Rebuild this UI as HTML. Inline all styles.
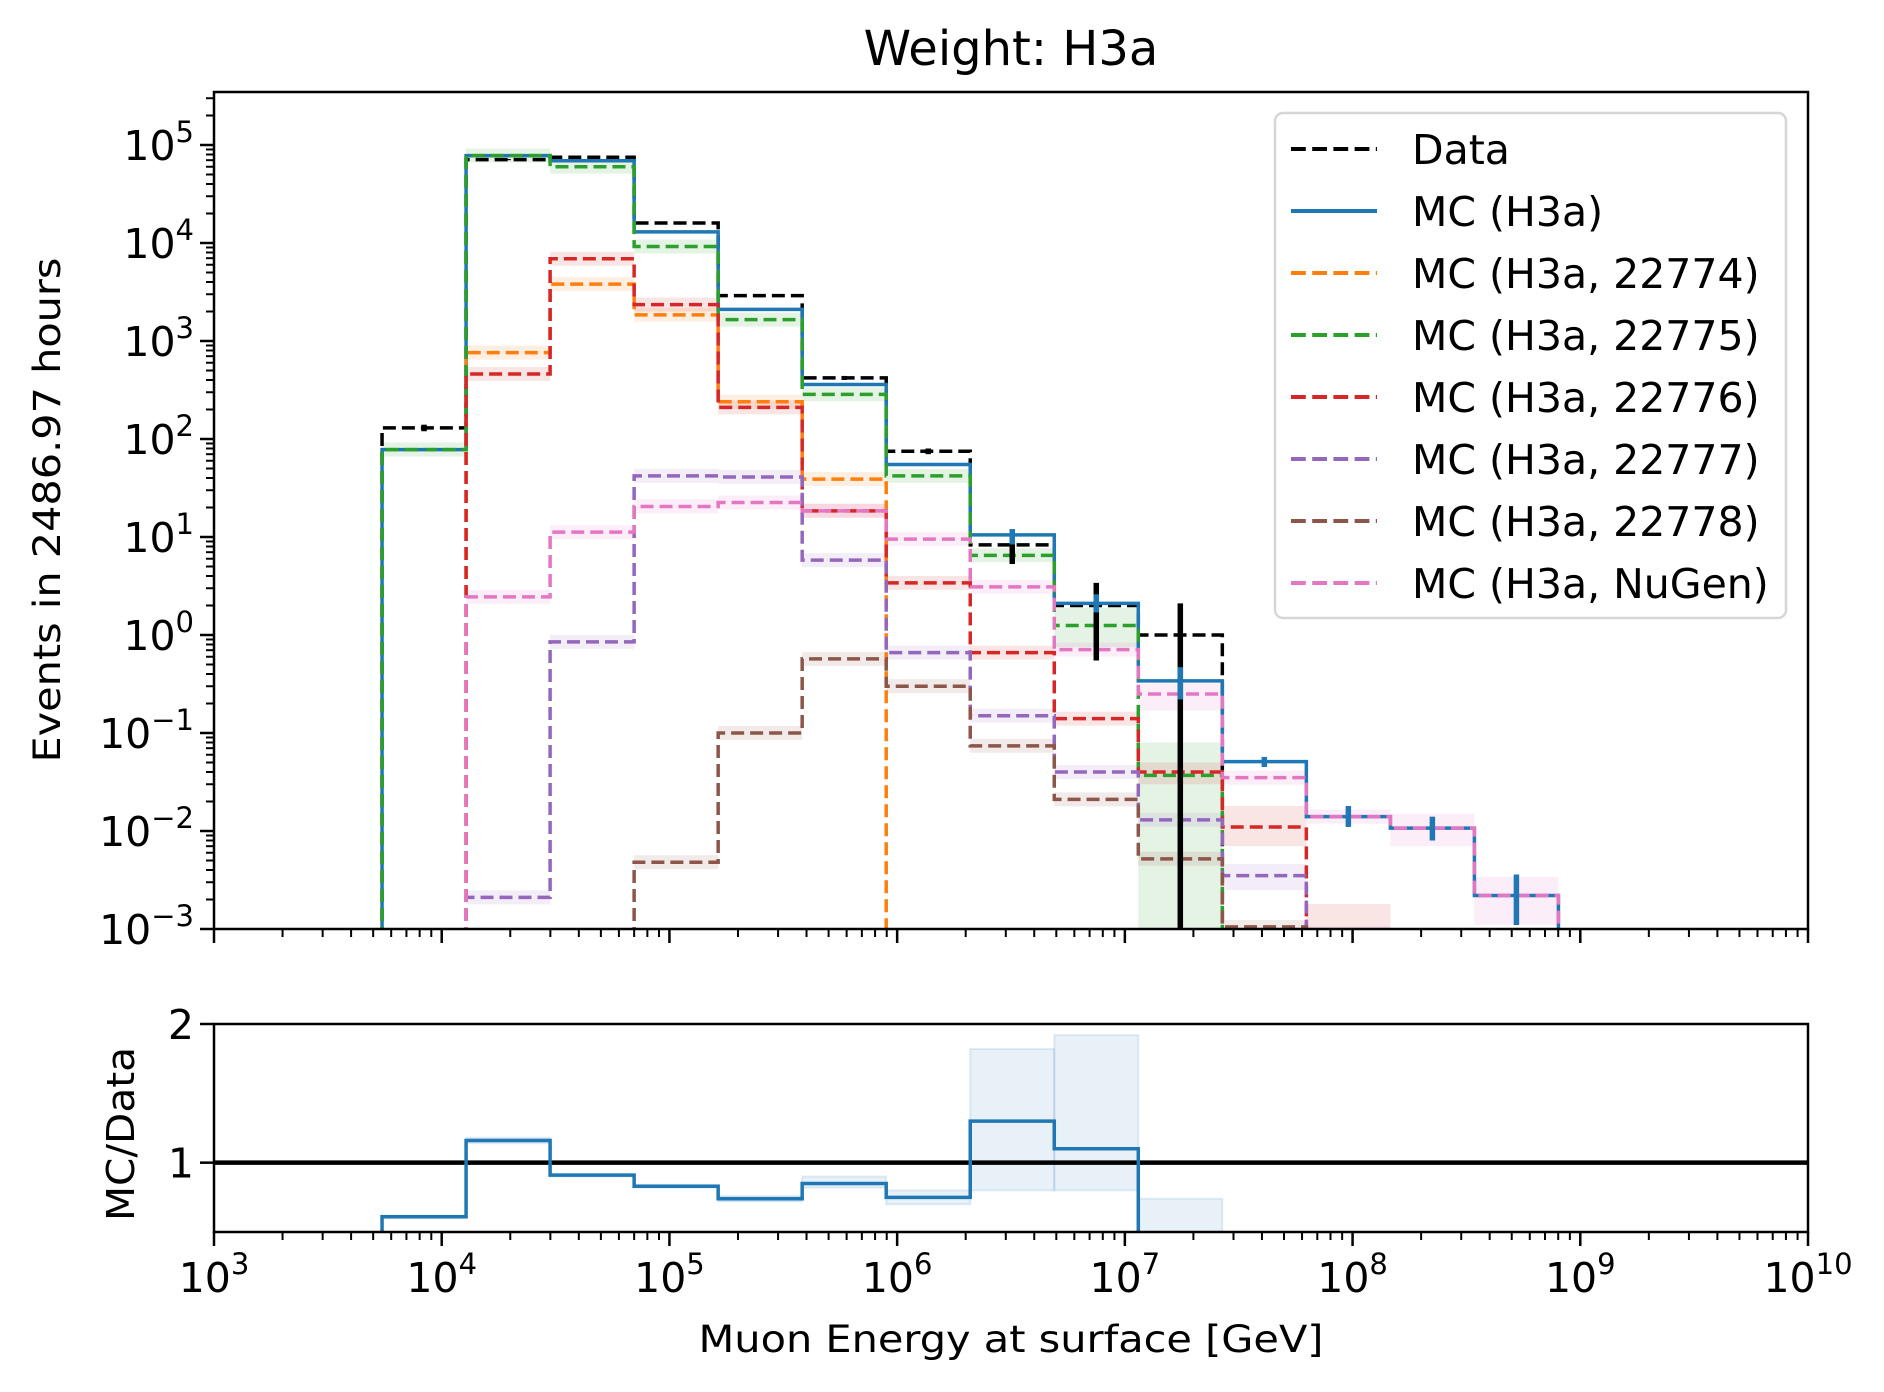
<!DOCTYPE html>
<html><head><meta charset="utf-8"><style>
html,body{margin:0;padding:0;background:#fff}
svg{display:block}
text{font-family:"DejaVu Sans","Liberation Sans",sans-serif;fill:#000}
</style></head><body>
<svg id="chart" width="1884" height="1392" viewBox="0 0 1884 1392" xmlns="http://www.w3.org/2000/svg">
<defs>
<clipPath id="clipMain"><rect x="214" y="92" width="1594" height="837"/></clipPath>
<clipPath id="clipRatio"><rect x="214" y="1024" width="1594" height="208"/></clipPath>
</defs>
<text x="1011" y="65" font-size="48" text-anchor="middle">Weight: H3a</text>
<g id="main"></g>
<g id="ratio"></g>
<g id="legend"></g>
</svg>
<script>
// ---- data ----
const binEdgesLog = [3.738,4.107,4.476,4.845,5.214,5.583,5.952,6.321,6.690,7.059,7.428,7.797,8.166,8.535,8.904];
const dataCounts = [130,71000,75000,16000,2900,420,75,8.3,2.0,1.0,0,0,0,0];
const mcH3a = [78,78000,69000,13000,2100,360,55,10.5,2.1,0.34,0.051,0.014,0.0107,0.0022];
const mc22774 = [0,760,3800,1850,240,39,0,0,0,0,0,0,0,0];
const mc22775 = [78,78000,60000,9200,1650,285,42,6.5,1.25,0.037,0,0,0,0];
const mc22776 = [0,460,6900,2350,210,18.5,3.4,0.66,0.14,0.04,0.011,0.0008,0,0];
const mc22777 = [0,0.0021,0.85,42,41,5.8,0.66,0.15,0.04,0.013,0.0035,0.0009,0,0];
const mc22778 = [0,0,0,0.0048,0.1,0.57,0.3,0.074,0.021,0.0052,0.00105,0,0,0];
const mcNuGen = [0,2.45,11.2,20.5,22.5,18.5,9.5,3.1,0.71,0.25,0.035,0.014,0.0107,0.0022];
const dataErrLo = [120,70000,74000,15500,2800,400,70,5.3,0.55,0.001,0,0,0,0];
const dataErrHi = [140,72000,76000,16500,3000,440,80,12,3.4,2.1,0,0,0,0];
const mcErrLo = [76,77000,68000,12800,2050,350,53,8.4,1.7,0.22,0.045,0.011,0.008,0.0011];
const mcErrHi = [80,79000,70000,13200,2150,370,57,12,2.6,0.47,0.057,0.018,0.014,0.0036];
const ratioVals = [0.61,1.16,0.91,0.83,0.74,0.85,0.75,1.30,1.10,0.34,0,0,0,0];
const ratioLo = [0.6,1.14,0.9,0.82,0.72,0.82,0.7,0.8,0.8,0.5,0,0,0,0];
const ratioHi = [0.62,1.18,0.92,0.84,0.76,0.9,0.8,1.82,1.92,0.74,0,0,0,0];
const xTickExps = [3,4,5,6,7,8,9,10];
const yTickExps = [-3,-2,-1,0,1,2,3,4,5];
const ratioTicks = [1,2];

// ---- scales ----
const X0=214,X1=1808,YT=92,YB=929,RT=1024,RB=1232;
const xs = l => X0 + (l-3)*(X1-X0)/7;
const ys = v => v>0 ? YB - (Math.log10(v)+3)*98.0 : YB+20;
const yr = r => RB - (r-0.5)*(RB-RT)/1.5;
const NS="http://www.w3.org/2000/svg";
function mk(tag, attrs, parent){const e=document.createElementNS(NS,tag);for(const k in attrs)e.setAttribute(k,attrs[k]);parent.appendChild(e);return e;}
const main=document.getElementById('main'), ratio=document.getElementById('ratio'), legend=document.getElementById('legend');
const gMain=mk('g',{'clip-path':'url(#clipMain)'},main);
const gRatio=mk('g',{'clip-path':'url(#clipRatio)'},ratio);

function stepPath(vals, yfn, bottom){
  let first=vals.findIndex(v=>v>0), last=vals.length-1; while(last>=0&&!(vals[last]>0))last--;
  if(first<0) return '';
  let d='M'+xs(binEdgesLog[first])+','+bottom;
  for(let i=first;i<=last;i++){let y=yfn(vals[i]); if(y>bottom)y=bottom; d+=' L'+xs(binEdgesLog[i])+','+y+' L'+xs(binEdgesLog[i+1])+','+y;}
  d+=' L'+xs(binEdgesLog[last+1])+','+bottom;
  return d;
}
function bands(vals,color,name,big){
  vals.forEach((v,i)=>{ if(!(v>0))return;
    let lo=v*0.85, hi=v*1.18;
    if(big&&big[i]){lo=big[i][0];hi=big[i][1];}
    const r=mk('rect',{x:xs(binEdgesLog[i]),y:ys(hi),width:xs(binEdgesLog[i+1])-xs(binEdgesLog[i]),height:ys(lo)-ys(hi),fill:color,'fill-opacity':0.12},gMain);
    
    
  });
}
const series=[
 {name:'data',vals:dataCounts,color:'#000000',dash:true,label:'Data'},
 {name:'mc-h3a',vals:mcH3a,color:'#1f77b4',dash:false,label:'MC (H3a)'},
 {name:'mc-22774',vals:mc22774,color:'#ff7f0e',dash:true,label:'MC (H3a, 22774)'},
 {name:'mc-22775',vals:mc22775,color:'#2ca02c',dash:true,label:'MC (H3a, 22775)',big:{8:[0.75,1.9],9:[0.0005,0.08]}},
 {name:'mc-22776',vals:mc22776,color:'#d62728',dash:true,label:'MC (H3a, 22776)',big:{9:[0.03,0.05],10:[0.007,0.018],11:[0.0005,0.0018]}},
 {name:'mc-22777',vals:mc22777,color:'#9467bd',dash:true,label:'MC (H3a, 22777)',big:{10:[0.0025,0.0046]}},
 {name:'mc-22778',vals:mc22778,color:'#8c564b',dash:true,label:'MC (H3a, 22778)'},
 {name:'mc-nugen',vals:mcNuGen,color:'#e377c2',dash:true,label:'MC (H3a, NuGen)',big:{9:[0.17,0.32],12:[0.007,0.015],13:[0.0011,0.0034]}}
];
series.slice(2).forEach(s=>bands(s.vals,s.color,s.name,s.big));
const drawOrder=[0,1,2,3,4,5,6,7];
drawOrder.forEach(k=>{const s=series[k];
  const p=mk('path',{d:stepPath(s.vals,ys,YB+30),fill:'none',stroke:s.color,'stroke-width':3.5,'stroke-dasharray':s.dash?'13,6':'none'},gMain);
  
  
});
// error bars
function errbars(lo,hi,vals,color,name){
  vals.forEach((v,i)=>{ if(!(v>0))return;
    const cx=xs((binEdgesLog[i]+binEdgesLog[i+1])/2);
    const l=mk('line',{x1:cx,x2:cx,y1:ys(hi[i]),y2:lo[i]>0?ys(lo[i]):YB+10,stroke:color,'stroke-width':5.5},gMain);
    
    
  });
}
errbars(dataErrLo,dataErrHi,dataCounts,'#000','data');
errbars(mcErrLo,mcErrHi,mcH3a,'#1f77b4','mc-h3a');

// main axes
function axes(g,top,bottom,name){
  const f=mk('rect',{x:X0,y:top,width:X1-X0,height:bottom-top,fill:'none',stroke:'#000','stroke-width':2.5},g);
  
  
  xTickExps.forEach(e=>{
    mk('line',{x1:xs(e),x2:xs(e),y1:bottom,y2:bottom+14,stroke:'#000','stroke-width':2.5},g);
    if(e<10)for(let m=2;m<10;m++){const x=xs(e+Math.log10(m));mk('line',{x1:x,x2:x,y1:bottom,y2:bottom+8,stroke:'#000','stroke-width':2},g);}
  });
}
axes(main,YT,YB,'main');
yTickExps.forEach(e=>{
  const y=ys(Math.pow(10,e));
  mk('line',{x1:X0-14,x2:X0,y1:y,y2:y,stroke:'#000','stroke-width':2.5},main);
  const t=mk('text',{x:X0-20,y:y+15,'font-size':41,'text-anchor':'end'},main);
  
  
  t.innerHTML='10<tspan dy="-18" font-size="29">'+(e<0?'\u2212'+(-e):e)+'</tspan>';
  for(let m=2;m<10;m++){const yy=ys(m*Math.pow(10,e)); if(yy<YT)break; mk('line',{x1:X0-8,x2:X0,y1:yy,y2:yy,stroke:'#000','stroke-width':2},main);}
});
// ylabel
const yl=mk('text',{x:0,y:0,'font-size':37,'text-anchor':'middle',transform:'translate(60,510) rotate(-90)',textLength:505,lengthAdjust:'spacingAndGlyphs'},main);


yl.textContent='Events in 2486.97 hours';

// ratio panel
[0,1,2,3,4,5,6,7,8,9].forEach(i=>{
  const r=mk('rect',{x:xs(binEdgesLog[i]),y:yr(ratioHi[i]),width:xs(binEdgesLog[i+1])-xs(binEdgesLog[i]),height:yr(ratioLo[i])-yr(ratioHi[i]),fill:'#1f77b4','fill-opacity':0.1,stroke:'#1f77b4','stroke-opacity':0.12,'stroke-width':2},gRatio);
  
  
});
const ref=mk('line',{x1:X0,x2:X1,y1:yr(1),y2:yr(1),stroke:'#000','stroke-width':4.5},gRatio);


const rp=mk('path',{d:stepPath(ratioVals,yr,RB+30),fill:'none',stroke:'#1f77b4','stroke-width':3.5},gRatio);


axes(ratio,RT,RB,'ratio');
ratioTicks.forEach(v=>{
  const y=yr(v);
  mk('line',{x1:X0-14,x2:X0,y1:y,y2:y,stroke:'#000','stroke-width':2.5},ratio);
  const t=mk('text',{x:X0-20,y:y+15,'font-size':41,'text-anchor':'end'},ratio);
  
  
  t.textContent=v;
});
xTickExps.forEach(e=>{
  const t=mk('text',{x:xs(e),y:1292,'font-size':41,'text-anchor':'middle'},ratio);
  
  
  t.innerHTML='10<tspan dy="-18" font-size="29">'+e+'</tspan>';
});
const rl=mk('text',{x:0,y:0,'font-size':38,'text-anchor':'middle',transform:'translate(134,1134) rotate(-90)',textLength:174,lengthAdjust:'spacingAndGlyphs'},ratio);


rl.textContent='MC/Data';
const xl=mk('text',{x:1011,y:1352,'font-size':37,'text-anchor':'middle',textLength:625,lengthAdjust:'spacingAndGlyphs'},ratio);


xl.textContent='Muon Energy at surface [GeV]';

// legend
const lb=mk('rect',{x:1275,y:113,width:511,height:505,rx:8,fill:'#fff','fill-opacity':0.8,stroke:'#d6d6d6','stroke-width':2.5},legend);


series.forEach((s,i)=>{
  const y=149+i*62;
  const g=mk('g',{},legend);
  
  
  mk('line',{x1:1291,x2:1377,y1:y,y2:y,stroke:s.color,'stroke-width':4,'stroke-dasharray':s.dash?'14.8,6.4':'none'},g);
  const t=mk('text',{x:1412,y:y+15,'font-size':41},g);
  t.textContent=s.label;
});
</script>
</body></html>
